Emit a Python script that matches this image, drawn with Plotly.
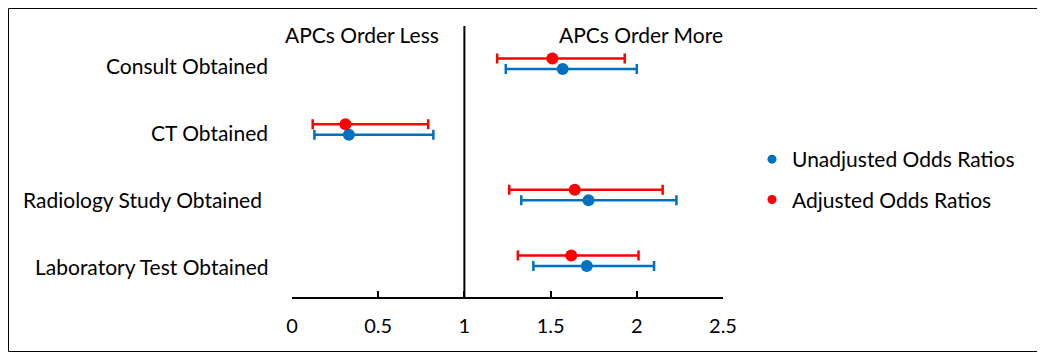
import plotly.graph_objects as go

# ---- data ----
categories = ["Consult Obtained", "CT Obtained", "Radiology Study Obtained", "Laboratory Test Obtained"]
cat_pos = [4, 3, 2, 1]

unadj_or = [1.57, 0.33, 1.72, 1.71]
unadj_lo = [1.24, 0.13, 1.33, 1.40]
unadj_hi = [2.00, 0.82, 2.23, 2.10]

adj_or = [1.51, 0.31, 1.64, 1.62]
adj_lo = [1.19, 0.12, 1.26, 1.31]
adj_hi = [1.93, 0.79, 2.15, 2.01]

x_ticks = [0, 0.5, 1, 1.5, 2, 2.5]
series_names = ["Unadjusted Odds Ratios", "Adjusted Odds Ratios"]

# ---- layout constants (reference pixel coords; page body adds 8px margin) ----
OFF = 8
W, H = 1045 - OFF, 361 - OFF
L, R, T, B = 292 - OFF, 723 - OFF, 26 - OFF, 297 - OFF
FONT = "Lato"
BLUE = "#0070C0"
RED = "#FF0000"
adj_offset = 0.16

def px(x):
    return (x - OFF - L) / (R - L)

def py(y):
    return (B - (y - OFF)) / (B - T)

fig = go.Figure()

blue_y = cat_pos
red_y = [p + adj_offset for p in cat_pos]

fig.add_trace(go.Scatter(
    x=unadj_or, y=blue_y, mode="markers", showlegend=False,
    marker=dict(color=BLUE, size=12),
    error_x=dict(type="data", symmetric=False,
                 array=[h - o for h, o in zip(unadj_hi, unadj_or)],
                 arrayminus=[o - l for o, l in zip(unadj_or, unadj_lo)],
                 color=BLUE, thickness=2.5, width=5),
))
fig.add_trace(go.Scatter(
    x=adj_or, y=red_y, mode="markers", showlegend=False,
    marker=dict(color=RED, size=12),
    error_x=dict(type="data", symmetric=False,
                 array=[h - o for h, o in zip(adj_hi, adj_or)],
                 arrayminus=[o - l for o, l in zip(adj_or, adj_lo)],
                 color=RED, thickness=2.5, width=5),
))

# legend entries
for name, col in zip(series_names, [BLUE, RED]):
    fig.add_trace(go.Scatter(x=[None], y=[None], mode="markers", name=name,
                             legendgroup=name,
                             marker=dict(color=col, size=9)))

# category labels
label_shift = {"Radiology Study Obtained": -6}
label_y = {"Consult Obtained": 4.06, "CT Obtained": 3.04,
           "Radiology Study Obtained": 2.02, "Laboratory Test Obtained": 1.0}
for c in categories:
    fig.add_annotation(x=px(270), y=label_y[c], xref="paper", yref="y",
                       text=c, showarrow=False, xanchor="right", yanchor="middle",
                       xshift=label_shift.get(c, 0),
                       font=dict(family=FONT, size=21, color="#000000"))

fig.add_annotation(x=px(361.5), y=py(34), xref="paper", yref="paper",
                   text="APCs Order Less", showarrow=False,
                   xanchor="center", yanchor="middle",
                   font=dict(family=FONT, size=21, color="#000000"))
fig.add_annotation(x=px(640.5), y=py(34), xref="paper", yref="paper",
                   text="APCs Order More", showarrow=False,
                   xanchor="center", yanchor="middle",
                   font=dict(family=FONT, size=21, color="#000000"))

# vertical reference line at 1
fig.add_shape(type="line", x0=1, x1=1, xref="x", y0=0, y1=1, yref="paper",
              line=dict(color="#000000", width=2))

# outer border
fig.add_shape(type="rect", xref="paper", yref="paper",
              x0=px(8.5), x1=px(1037.5), y0=py(351.5), y1=py(8.5),
              line=dict(color="#000000", width=1))

y_lo = 1 - (297 - 266) / 65.67
y_hi = 1 + (266 - 26) / 65.67

fig.update_layout(
    width=W, height=H,
    margin=dict(l=L, r=W - R, t=T, b=H - B, pad=0),
    paper_bgcolor="#FFFFFF", plot_bgcolor="#FFFFFF",
    font=dict(family=FONT, size=21, color="#000000"),
    xaxis=dict(range=[0, 2.5], tickvals=x_ticks, ticktext=[str(v) for v in x_ticks],
               showgrid=False, zeroline=False, showline=True, linecolor="#000000",
               linewidth=1.5, ticks="inside", ticklen=6, tickcolor="#000000",
               tickwidth=1.5, ticklabelstandoff=10,
               tickfont=dict(family=FONT, size=20, color="#000000")),
    yaxis=dict(range=[y_lo, y_hi], showgrid=False, zeroline=False,
               showline=False, showticklabels=False, ticks=""),
    legend=dict(x=px(752), y=py(139), xanchor="left", yanchor="top",
                font=dict(family=FONT, size=21, color="#000000"),
                tracegroupgap=10, bgcolor="rgba(0,0,0,0)"),
    showlegend=True,
)

fig.write_html("out.html")
